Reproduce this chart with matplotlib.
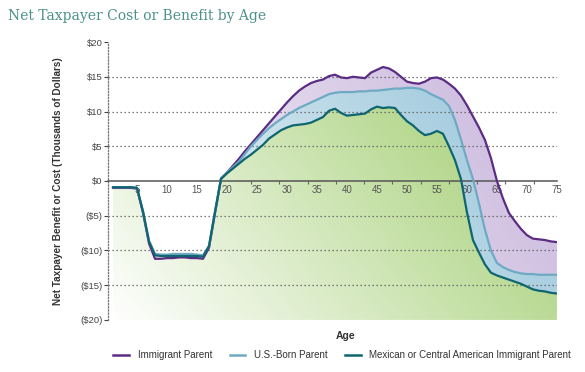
import numpy as np
import matplotlib
matplotlib.use("Agg")
import matplotlib.pyplot as plt
from matplotlib.lines import Line2D

# values (thousands of dollars), ages 1..75
ages = list(range(1, 76))

immigrant = [-1.0, -1.0, -1.0, -1.0, -1.1, -4.6, -9.0, -11.2, -11.2, -11.1,
             -11.1, -11.0, -11.0, -11.1, -11.1, -11.2, -9.6, -4.6, 0.3, 1.2,
             2.2, 3.2, 4.3, 5.3, 6.3, 7.3, 8.3, 9.3, 10.3, 11.3,
             12.2, 13.0, 13.6, 14.1, 14.4, 14.6, 15.1, 15.3, 14.9, 14.8,
             15.0, 14.9, 14.8, 15.6, 16.0, 16.4, 16.2, 15.7, 15.0, 14.3,
             14.1, 14.0, 14.3, 14.8, 14.9, 14.6, 14.0, 13.3, 12.3, 10.9,
             9.3, 7.7, 5.9, 3.3, 0.0, -2.5, -4.6, -5.8, -6.9, -7.8,
             -8.3, -8.4, -8.5, -8.7, -8.8]

us_born = [-0.9, -0.9, -0.9, -0.9, -1.0, -4.4, -8.6, -10.5, -10.6, -10.6,
           -10.5, -10.5, -10.5, -10.5, -10.6, -10.7, -9.3, -4.4, 0.4, 1.2,
           2.0, 2.8, 3.9, 5.0, 5.9, 6.8, 7.6, 8.3, 8.9, 9.5,
           10.0, 10.5, 10.9, 11.3, 11.7, 12.1, 12.5, 12.7, 12.8, 12.8,
           12.8, 12.9, 12.9, 13.0, 13.0, 13.1, 13.2, 13.3, 13.3, 13.4,
           13.4, 13.3, 13.0, 12.5, 12.1, 11.7, 10.8, 8.8, 6.0, 3.0,
           0.3, -3.2, -7.0, -10.0, -11.8, -12.4, -12.8, -13.1, -13.3, -13.4,
           -13.4, -13.5, -13.5, -13.5, -13.5]

mexican = [-0.9, -0.9, -0.9, -0.9, -1.0, -4.4, -8.7, -10.7, -10.8, -10.8,
           -10.8, -10.8, -10.8, -10.8, -10.8, -10.9, -9.4, -4.5, 0.3, 1.1,
           1.8, 2.5, 3.2, 3.8, 4.5, 5.2, 6.1, 6.7, 7.3, 7.7,
           8.0, 8.1, 8.2, 8.4, 8.8, 9.2, 10.1, 10.4, 9.8, 9.4,
           9.5, 9.6, 9.7, 10.3, 10.7, 10.5, 10.6, 10.5, 9.5, 8.6,
           8.0, 7.2, 6.6, 6.8, 7.2, 6.8, 5.0, 3.0, 0.3, -4.5,
           -8.5, -10.3, -12.0, -13.2, -13.6, -13.9, -14.2, -14.5, -14.8, -15.2,
           -15.6, -15.8, -15.9, -16.1, -16.2]

y_ticks = [20, 15, 10, 5, 0, -5, -10, -15, -20]
y_labels = ["$20", "$15", "$10", "$5", "$0", "($5)", "($10)", "($15)", "($20)"]
x_ticks = [5, 10, 15, 20, 25, 30, 35, 40, 45, 50, 55, 60, 65, 70, 75]

c_imm = "#5b2c83"
c_us = "#6eaac3"
c_mex = "#0f6570"

plt.rcParams["font.family"] = ["Liberation Sans", "DejaVu Sans"]

fig = plt.figure(figsize=(5.85, 3.72), dpi=100)
ax = fig.add_axes([0.185, 0.14, 0.767, 0.747])
ax.set_xlim(0.2, 75)
ax.set_ylim(-20, 20)


def grad_fill(ax, x, lo, hi, rgb, a_left, a_right, vert=0.3, stretch=1.6):
    # gradient coloured fill between two curves, clipped to their polygon
    poly = ax.fill_between(x, lo, hi, facecolor="none", edgecolor="none")
    gx = np.linspace(0, 1, 200)
    gy = np.linspace(0, 1, 100)
    X, Y = np.meshgrid(gx, gy)
    t = np.clip((1 - vert) * X * stretch + vert * Y, 0, 1)
    img = np.zeros((100, 200, 4))
    img[..., :3] = rgb
    img[..., 3] = a_left + (a_right - a_left) * t
    im = ax.imshow(img, extent=[0.2, 75, -20, 20], origin="lower",
                   aspect="auto", zorder=1, interpolation="bilinear")
    im.set_clip_path(poly.get_paths()[0], transform=ax.transData)


grad_fill(ax, ages, us_born, immigrant, (0.72, 0.62, 0.82), 0.05, 0.75, stretch=1.1)
grad_fill(ax, ages, mexican, us_born, (0.50, 0.72, 0.82), 0.05, 0.85, stretch=1.05)
grad_fill(ax, ages, [-20] * len(ages), mexican, (0.64, 0.81, 0.45), 0.0, 0.85, vert=0.45)
ax.set_xlim(0.2, 75)
ax.set_ylim(-20, 20)

# dotted grid
for v in [15, 10, 5, -5, -10, -15]:
    ax.axhline(v, color="#555555", lw=0.9, ls=(0, (1, 2.2)), zorder=2)

ax.plot(ages, immigrant, color=c_imm, lw=1.6, zorder=4)
ax.plot(ages, us_born, color=c_us, lw=1.6, zorder=4)
ax.plot(ages, mexican, color=c_mex, lw=1.6, zorder=4)

for s in ["top", "right"]:
    ax.spines[s].set_visible(False)
ax.spines["bottom"].set_position(("data", 0))
ax.spines["bottom"].set_color("#555555")
ax.spines["bottom"].set_linewidth(1.1)
ax.spines["bottom"].set_zorder(3)
ax.spines["left"].set_linestyle((0, (1, 1.5)))
ax.spines["left"].set_color("#777777")
ax.spines["left"].set_linewidth(0.9)

ax.set_yticks(y_ticks)
ax.set_yticklabels(y_labels)
ax.set_xticks(x_ticks)
ax.set_xticklabels([str(a) for a in x_ticks])
ax.set_xticks(np.linspace(0.5, 71.1, 16)[5:], minor=True)
ax.tick_params(axis="y", labelsize=6.8, colors="#444444", length=3, width=0.8, pad=1)
ax.tick_params(axis="x", which="major", labelsize=7, colors="#555555", length=0, pad=3)
ax.tick_params(axis="x", which="minor", length=2, width=0.8, color="#666666")

ax.set_ylabel("Net Taxpayer Benefit or Cost (Thousands of Dollars)",
              fontsize=7.2, fontweight="bold", color="#333333")
ax.yaxis.set_label_coords(-0.1, 0.5)

fig.text(0.59, 0.097, "Age", fontsize=7.5, fontweight="bold", color="#333333",
         ha="center", va="center")
fig.text(0.013, 0.975, "Net Taxpayer Cost or Benefit by Age", fontsize=10,
         family="DejaVu Serif", color="#4b918a", ha="left", va="top")

handles = [Line2D([], [], color=c_imm, lw=1.8),
           Line2D([], [], color=c_us, lw=1.8),
           Line2D([], [], color=c_mex, lw=1.8)]
fig.legend(handles, ["Immigrant Parent", "U.S.-Born Parent",
                     "Mexican or Central American Immigrant Parent"],
           loc="center", bbox_to_anchor=(0.585, 0.045), ncol=3, frameon=False,
           fontsize=7, handlelength=1.6, columnspacing=1.8, handletextpad=0.9,
           labelcolor="#333333")

fig.savefig("out.png", dpi=100)
